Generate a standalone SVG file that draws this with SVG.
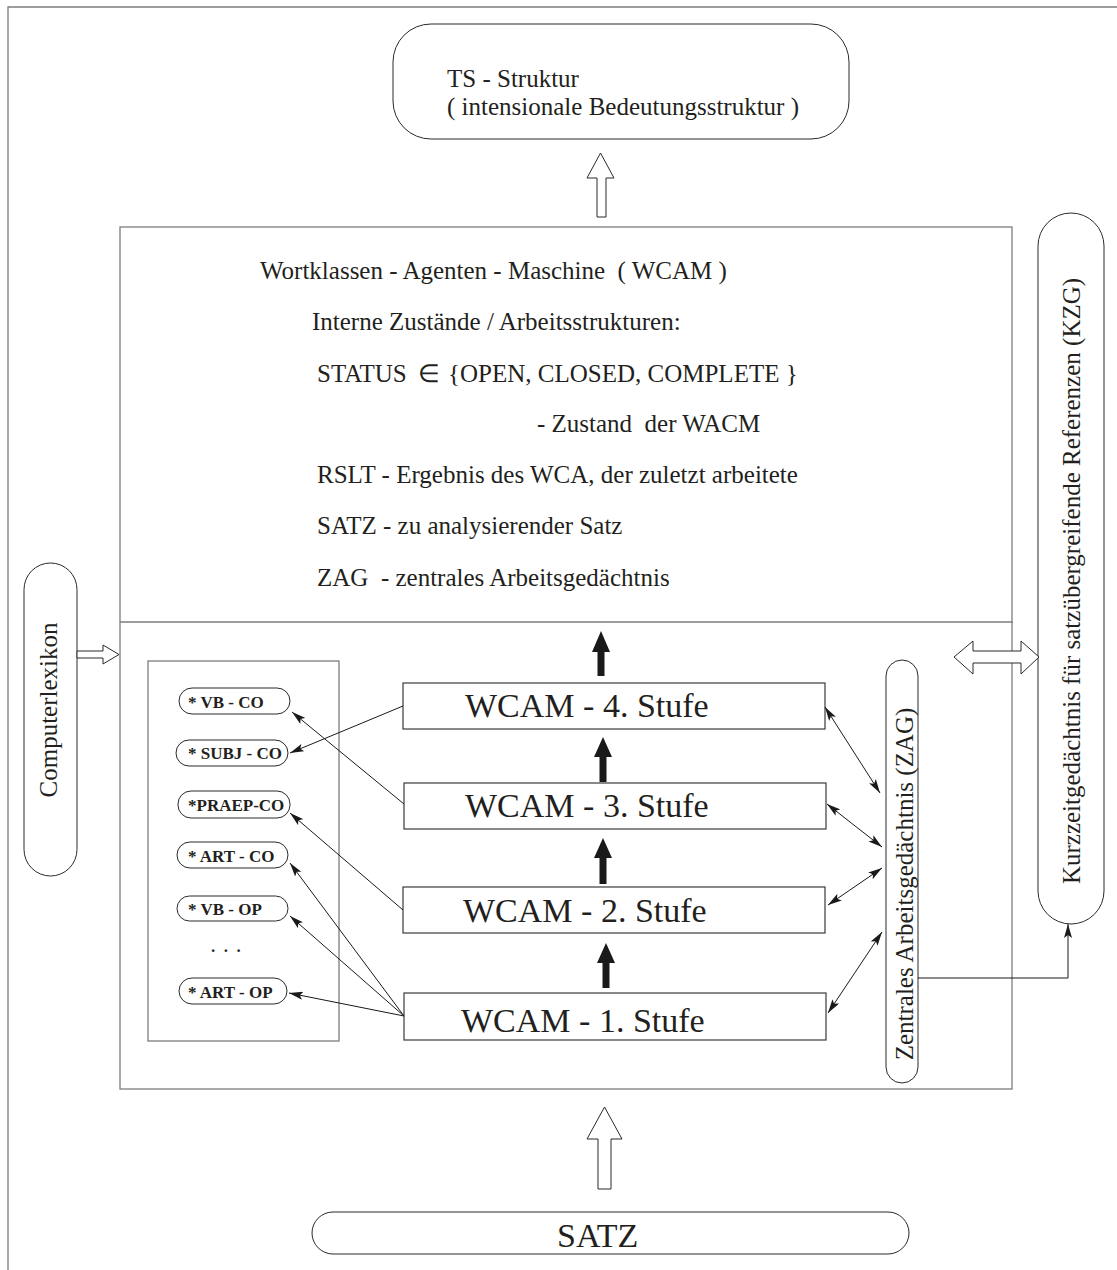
<svg xmlns="http://www.w3.org/2000/svg" width="1117" height="1270" viewBox="0 0 1117 1270">
<defs>
<style>
text{font-family:"Liberation Serif","Times New Roman",serif;fill:#231f20}
.t25{font-size:25px}
.t34{font-size:34px}
.b17{font-size:17px;font-weight:bold}
.frame{fill:none;stroke:#7d7d7d;stroke-width:1.3}
.box{fill:#fff;stroke:#3a3a3a;stroke-width:1.2}
.pill{fill:#fff;stroke:#2a2a2a;stroke-width:1}
.hollow{fill:#fff;stroke:#2a2a2a;stroke-width:1}
.solid{fill:#1a1a1a;stroke:none}
.conn{fill:none;stroke:#1a1a1a;stroke-width:1}
</style>
<marker id="ah" viewBox="0 0 14 8" refX="14" refY="4" markerWidth="14" markerHeight="8" markerUnits="userSpaceOnUse" orient="auto-start-reverse">
<path d="M0,0 L14,4 L0,8 L3,4 Z" fill="#1a1a1a"/>
</marker>
</defs>
<rect width="1117" height="1270" fill="#fff"/>
<path class="frame" d="M8,1270 L8,7 L1117,7"/>

<g id="ts">
<rect class="pill" x="393" y="24" width="456" height="115" rx="38" ry="38"/>
<text class="t25" x="447" y="87">TS - Struktur</text>
<text class="t25" x="447" y="115">( intensionale Bedeutungsstruktur )</text>
</g>

<g id="wcam">
<rect class="frame" x="120" y="227" width="892" height="862"/>
<line class="frame" x1="120" y1="622" x2="1013" y2="622"/>
<text class="t25" x="260" y="279" xml:space="preserve">Wortklassen - Agenten - Maschine  ( WCAM )</text>
<text class="t25" x="312" y="330">Interne Zustände / Arbeitsstrukturen:</text>
<text class="t25" y="382"><tspan x="317">STATUS</tspan><tspan x="418">∈</tspan><tspan x="448">{OPEN, CLOSED, COMPLETE }</tspan></text>
<text class="t25" x="537" y="432" xml:space="preserve">- Zustand  der WACM</text>
<text class="t25" x="317" y="483">RSLT - Ergebnis des WCA, der zuletzt arbeitete</text>
<text class="t25" x="317" y="534">SATZ - zu analysierender Satz</text>
<text class="t25" x="317" y="586" xml:space="preserve">ZAG  - zentrales Arbeitsgedächtnis</text>
</g>

<g id="agents">
<rect class="frame" x="148" y="661" width="191" height="380"/>
<g id="vb-co"><rect class="pill" x="179" y="688" width="111" height="26" rx="13"/><text class="b17" x="188" y="708">* VB - CO</text></g>
<g id="subj-co"><rect class="pill" x="176" y="740" width="112" height="26" rx="13"/><text class="b17" x="188" y="759">* SUBJ - CO</text></g>
<g id="praep-co"><rect class="pill" x="178" y="791" width="112" height="27" rx="13"/><text class="b17" x="188" y="811">*PRAEP-CO</text></g>
<g id="art-co"><rect class="pill" x="177" y="842" width="111" height="26" rx="13"/><text class="b17" x="188" y="862">* ART - CO</text></g>
<g id="vb-op"><rect class="pill" x="177" y="896" width="111" height="25" rx="12.5"/><text class="b17" x="188" y="915">* VB - OP</text></g>
<text class="b17" x="211" y="952" xml:space="preserve">.  .  .</text>
<g id="art-op"><rect class="pill" x="179" y="978" width="108" height="26" rx="13"/><text class="b17" x="188" y="998">* ART - OP</text></g>
</g>

<g id="stufe4"><rect class="box" x="403" y="683" width="422" height="46"/><text class="t34" x="465" y="717">WCAM - 4. Stufe</text></g>
<g id="stufe3"><rect class="box" x="404" y="783" width="422" height="46"/><text class="t34" x="465" y="817">WCAM - 3. Stufe</text></g>
<g id="stufe2"><rect class="box" x="403" y="887" width="422" height="46"/><text class="t34" x="463" y="922">WCAM - 2. Stufe</text></g>
<g id="stufe1"><rect class="box" x="404" y="993" width="422" height="47"/><text class="t34" x="461" y="1032">WCAM - 1. Stufe</text></g>

<g id="lexikon">
<rect class="pill" x="24" y="563" width="53" height="313" rx="26.5"/>
<text class="t25" text-anchor="middle" transform="translate(57,710) rotate(-90)">Computerlexikon</text>
</g>

<g id="zag">
<rect class="pill" x="886" y="660" width="32" height="423" rx="16"/>
<text class="t25" text-anchor="middle" transform="translate(913,884) rotate(-90)">Zentrales Arbeitsgedächtnis (ZAG)</text>
</g>

<g id="kzg">
<rect class="pill" x="1038" y="213" width="66" height="711" rx="33"/>
<text class="t25" text-anchor="middle" transform="translate(1080,581) rotate(-90)">Kurzzeitgedächtnis für satzübergreifende Referenzen (KZG)</text>
</g>

<g id="satz">
<rect class="pill" x="312" y="1212" width="597" height="42" rx="21"/>
<text class="t34" x="557" y="1247">SATZ</text>
</g>

<g id="connectors">
<path class="hollow" d="M597,217 L597,178 L587,178 L600.5,153 L614,178 L606,178 L606,217 Z"/>
<path class="hollow" d="M77,651 L103,651 L103,645 L119,654.5 L103,664 L103,658 L77,658 Z"/>
<path class="hollow" d="M954,657 L973,641 L973,651 L1021,651 L1021,641 L1039,657 L1021,674 L1021,663 L973,663 L973,674 Z"/>
<path class="hollow" d="M598,1189 L598,1139 L587,1139 L604.5,1107 L622,1139 L611,1139 L611,1189 Z"/>
<path class="solid" d="M601,631 L610,652 L604.5,652 L604.5,676 L597.5,676 L597.5,652 L592,652 Z"/>
<path class="solid" d="M603,737 L612,757 L606.5,757 L606.5,782 L599.5,782 L599.5,757 L594,757 Z"/>
<path class="solid" d="M603,838 L612,858 L606.5,858 L606.5,884 L599.5,884 L599.5,858 L594,858 Z"/>
<path class="solid" d="M606,943 L615,963 L609.5,963 L609.5,988 L602.5,988 L602.5,963 L597,963 Z"/>
<line class="conn" x1="403" y1="706" x2="290" y2="753" marker-end="url(#ah)"/>
<line class="conn" x1="404" y1="804" x2="292" y2="712" marker-end="url(#ah)"/>
<line class="conn" x1="403" y1="910" x2="290" y2="813" marker-end="url(#ah)"/>
<line class="conn" x1="404" y1="1016" x2="290" y2="863" marker-end="url(#ah)"/>
<line class="conn" x1="404" y1="1016" x2="290" y2="916" marker-end="url(#ah)"/>
<line class="conn" x1="404" y1="1016" x2="289" y2="993" marker-end="url(#ah)"/>
<line class="conn" x1="825" y1="707" x2="880" y2="793" marker-start="url(#ah)" marker-end="url(#ah)"/>
<line class="conn" x1="827" y1="804" x2="882" y2="847" marker-start="url(#ah)" marker-end="url(#ah)"/>
<line class="conn" x1="828" y1="905" x2="882" y2="868" marker-start="url(#ah)" marker-end="url(#ah)"/>
<line class="conn" x1="828" y1="1013" x2="882" y2="932" marker-start="url(#ah)" marker-end="url(#ah)"/>
<path class="conn" d="M918,978 L1068,978 L1068,924" marker-end="url(#ah)"/>
</g>
</svg>
